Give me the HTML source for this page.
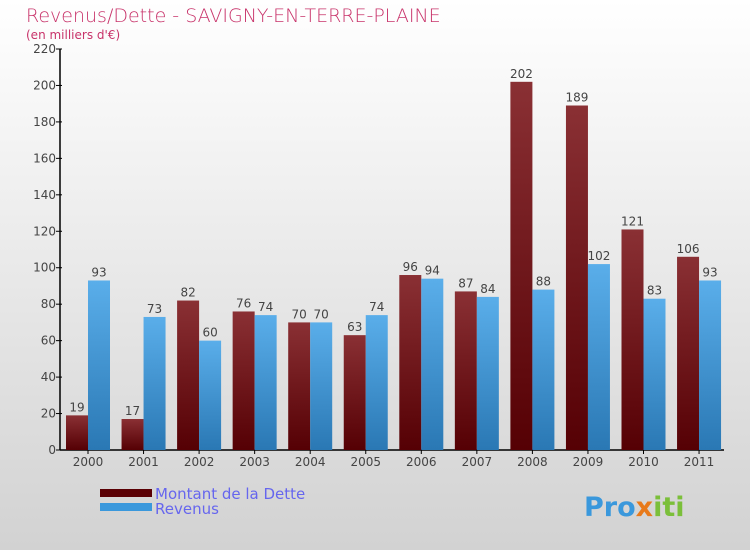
<!DOCTYPE html>
<html><head><meta charset="utf-8"><style>
body{margin:0}
#c{width:750px;height:550px;position:relative;background:linear-gradient(#ffffff,#d2d2d2);font-family:"DejaVu Sans","Liberation Sans",sans-serif;overflow:hidden}
</style></head><body>
<div id="c">
<svg id="s" width="750" height="550">
<defs>
<linearGradient id="gd" x1="0" y1="0" x2="0" y2="1"><stop offset="0" stop-color="#8a3034"/><stop offset="1" stop-color="#550004"/></linearGradient>
<linearGradient id="gr" x1="0" y1="0" x2="0" y2="1"><stop offset="0" stop-color="#5aaeea"/><stop offset="1" stop-color="#2a78b4"/></linearGradient>
</defs>
<text x="26" y="22" font-size="19" fill="#c8336a" font-weight="200">Revenus/Dette - SAVIGNY-EN-TERRE-PLAINE</text>
<text x="26" y="39" font-size="12" fill="#c8336a">(en milliers d'€)</text>
<g id="plot"></g>
<rect x="100" y="489" width="52" height="8" fill="#5a0004"/>
<rect x="100" y="503" width="52" height="8" fill="#3a98dc"/>
<text x="155" y="499" font-size="15" fill="#6666ee">Montant de la Dette</text>
<text x="155" y="514" font-size="15" fill="#6666ee">Revenus</text>
<text x="584" y="516" font-size="27" font-weight="bold" fill="#3a98dc">Pro<tspan fill="#e87a1a">x</tspan><tspan fill="#7bbf3a">iti</tspan></text>
</svg>
</div>
<script>
const categories=["2000","2001","2002","2003","2004","2005","2006","2007","2008","2009","2010","2011"];
const dette=[19,17,82,76,70,63,96,87,202,189,121,106];
const revenus=[93,73,60,74,70,74,94,84,88,102,83,93];
const ticks=[0,20,40,60,80,100,120,140,160,180,200,220];
const NS="http://www.w3.org/2000/svg";
const g=document.getElementById("plot");
const y0=450,yTop=49,maxV=220,x0=60,step=55.55;
const y=v=>y0-v*(y0-yTop)/maxV;
const gx=i=>x0+6+i*step;
function mk(t,a){const e=document.createElementNS(NS,t);for(const k in a)e.setAttribute(k,a[k]);g.appendChild(e);return e;}
let ax=mk("line",{x1:x0,y1:y0,x2:x0,y2:yTop,stroke:"#000","stroke-width":1.5});


let bx=mk("line",{x1:x0,y1:y0,x2:724,y2:y0,stroke:"#000","stroke-width":1.5});


ticks.forEach(t=>{
 let l=mk("line",{x1:x0-4,y1:y(t),x2:x0+2,y2:y(t),stroke:"#000"});
 
 
 let tx=mk("text",{x:x0-4,y:y(t)+4,"font-size":12,fill:"#444","text-anchor":"end"});
 tx.textContent=t;
 
 
});
categories.forEach((c,i)=>{
 const x=gx(i),w=22;
 let b1=mk("rect",{x:x,y:y(dette[i]),width:w,height:y0-y(dette[i]),fill:"url(#gd)"});
 
 
 let b2=mk("rect",{x:x+w,y:y(revenus[i]),width:w,height:y0-y(revenus[i]),fill:"url(#gr)"});
 
 
 let v1=mk("text",{x:x+w/2,y:y(dette[i])-4,"font-size":12,fill:"#444","text-anchor":"middle"});
 v1.textContent=dette[i];
 
 
 let v2=mk("text",{x:x+w*1.5,y:y(revenus[i])-4,"font-size":12,fill:"#444","text-anchor":"middle"});
 v2.textContent=revenus[i];
 
 
 let tk=mk("line",{x1:x+w,y1:y0,x2:x+w,y2:y0+4,stroke:"#000"});
 
 
 let cl=mk("text",{x:x+w,y:y0+16,"font-size":12,fill:"#444","text-anchor":"middle"});
 cl.textContent=c;
 
 
});
</script>
</body></html>
